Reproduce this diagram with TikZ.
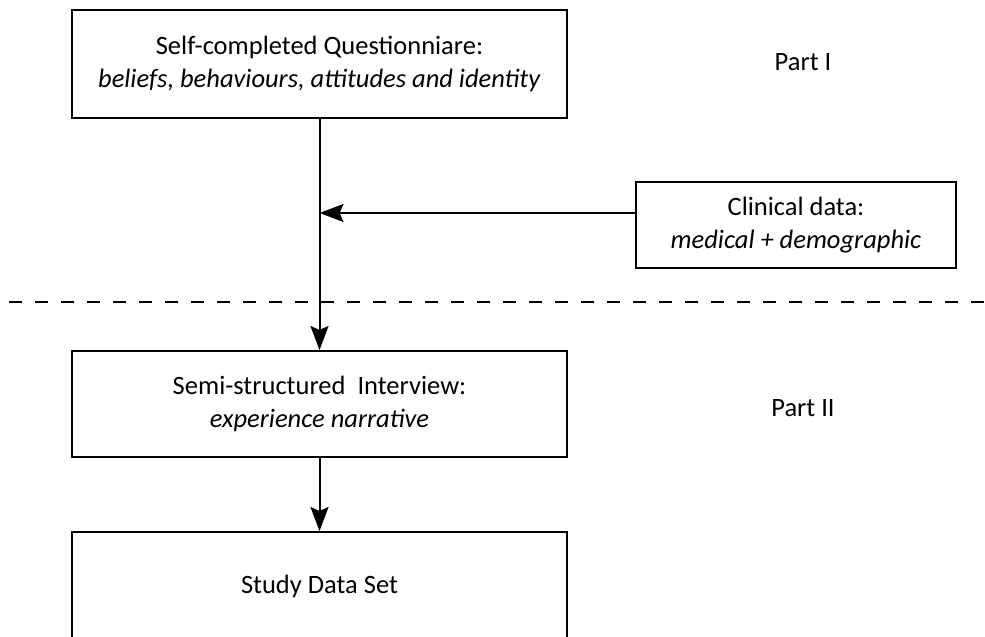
\documentclass[tikz,border=0pt]{standalone}
\usepackage{fontspec}
\setmainfont{Carlito}
\usetikzlibrary{arrows.meta}
\begin{document}
\begin{tikzpicture}[x=1pt,y=-1pt,
  txt/.style={font=\fontsize{26.5}{33}\selectfont},
  box/.style={draw,line width=2pt,minimum width=495pt,minimum height=108pt,
    align=center,inner sep=0pt,txt},
  arr/.style={line width=2pt,-{Stealth[length=24pt,width=18pt,inset=4pt]}},
  sep/.style={line width=2pt,dash pattern=on 13pt off 13pt,dash phase=17pt}]
\useasboundingbox (0,0) rectangle (985,637);
\clip (0,0) rectangle (985,637);
\node[box] (q) at (319.5,64) {Self-completed Questionniare:\\\textit{beliefs, behaviours, attitudes and identity}};
\node[box,minimum width=320pt,minimum height=86pt] (c) at (796,225) {Clinical data:\\\textit{medical + demographic}};
\node[box,minimum height=106pt] (s) at (319.5,404) {Semi-structured~ Interview:\\\textit{experience narrative}};
\node[box] (d) at (319.5,586) {Study Data Set};
\node[txt] (p1) at (803,62) {Part I};
\node[txt] (p2) at (803,408) {Part II};
\coordinate (dl) at (0,302);
\coordinate (dr) at (985,302);
\draw[sep] (dl) -- (dr);
\coordinate (cw) at ([yshift=12pt]c.west);
\coordinate (j) at (q.south |- cw);
\draw[arr] (q.south) -- (s.north);
\draw[arr] (cw) -- (j);
\draw[arr] (s.south) -- (d.north);
\end{tikzpicture}
\end{document}
